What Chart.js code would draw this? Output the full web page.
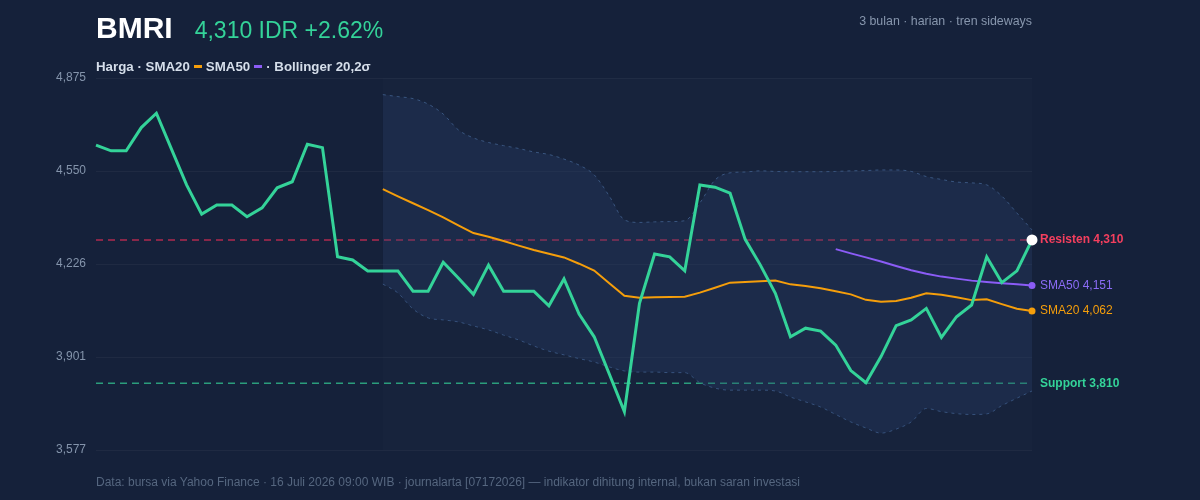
<!DOCTYPE html>
<html>
<head>
<meta charset="utf-8">
<script src="https://cdn.jsdelivr.net/npm/chart.js@4.4.0/dist/chart.umd.min.js"></script>
<style>
  body { margin: 0; background: #15213a; font-family: "Liberation Sans", Arial, sans-serif; }
  #wrap { position: relative; width: 1200px; height: 500px; }
  canvas { position: absolute; left: 0; top: 0; }
  .abs { position: absolute; white-space: nowrap; }
  #head { left: 96px; top: 13px; display: flex; align-items: baseline; gap: 22px; line-height: 30px; }
  #sym { font-weight: bold; font-size: 30px; color: #ffffff; }
  #quote { font-size: 23px; color: #34d399; }
  #meta { right: 168px; top: 15px; font-size: 12.4px; color: #8796ad; line-height: 13px; }
  #legend { left: 96px; top: 60px; font-size: 13.3px; font-weight: bold; color: #d5deea; line-height: 13px; }
  .sw { display: inline-block; width: 8px; height: 3px; vertical-align: middle; margin: 0 4px 2px 4px; }
  #foot { left: 96px; top: 476px; font-size: 12px; color: #55667f; line-height: 12px; }
</style>
</head>
<body>
<div id="wrap">
  <canvas id="myChart" width="1200" height="500"></canvas>
  <div id="head" class="abs"><span id="sym">BMRI</span><span id="quote">4,310 IDR +2.62%</span></div>
  <div id="meta" class="abs">3 bulan · harian · tren sideways</div>
  <div id="legend" class="abs">Harga · SMA20<span class="sw" style="background:#f59e0b"></span>SMA50<span class="sw" style="background:#8b5cf6"></span>· Bollinger 20,2σ</div>
  <div id="foot" class="abs">Data: bursa via Yahoo Finance · 16 Juli 2026 09:00 WIB · journalarta [07172026] — indikator dihitung internal, bukan saran investasi</div>
</div>
<script>
// harga penutupan harian (IDR)
const price = [
  4641, 4621, 4621, 4702, 4752, 4627, 4502, 4400, 4432, 4432,
  4391, 4422, 4492, 4513, 4644, 4632, 4251, 4240, 4202, 4202,
  4202, 4131, 4131, 4232, 4177, 4120, 4222, 4131, 4131, 4131,
  4080, 4174, 4051, 3972, 3842, 3711, 4089, 4261, 4251, 4202,
  4502, 4494, 4473, 4312, 4223, 4124, 3972, 4002, 3992, 3943,
  3854, 3812, 3903, 4011, 4031, 4071, 3970, 4042, 4083, 4251,
  4161, 4202, 4310
]
const N = null
const sma20 = [
  N, N, N, N, N, N, N, N, N, N,
  N, N, N, N, N, N, N, N, N, 4487,
  4462, 4438, 4414, 4389, 4361, 4334, 4321, 4306, 4290, 4275,
  4262, 4249, 4227, 4203, 4159, 4115, 4108, 4110, 4111, 4112,
  4126, 4143, 4161, 4163, 4166, 4168, 4155, 4149, 4141, 4131,
  4120, 4101, 4094, 4097, 4108, 4124, 4119, 4110, 4100, 4103,
  4086, 4070, 4062
]
const sma50 = [
  N, N, N, N, N, N, N, N, N, N,
  N, N, N, N, N, N, N, N, N, N,
  N, N, N, N, N, N, N, N, N, N,
  N, N, N, N, N, N, N, N, N, N,
  N, N, N, N, N, N, N, N, N, 4278,
  4263, 4249, 4235, 4219, 4204, 4192, 4182, 4175, 4168, 4163,
  4159, 4155, 4151
]
const bbUpper = [
  N, N, N, N, N, N, N, N, N, N,
  N, N, N, N, N, N, N, N, N, 4817,
  4810, 4803, 4784, 4749, 4694, 4666, 4650, 4639, 4629, 4617,
  4608, 4592, 4571, 4537, 4463, 4380, 4371, 4373, 4374, 4377,
  4439, 4519, 4544, 4547, 4551, 4549, 4548, 4548, 4548, 4549,
  4551, 4552, 4554, 4554, 4549, 4531, 4521, 4512, 4509, 4502,
  4463, 4404, 4345
]
const bbLower = [
  N, N, N, N, N, N, N, N, N, N,
  N, N, N, N, N, N, N, N, N, 4156,
  4125, 4069, 4038, 4031, 4024, 4010, 3996, 3978, 3961, 3940,
  3922, 3909, 3896, 3884, 3867, 3853, 3849, 3849, 3847, 3847,
  3812, 3793, 3786, 3786, 3786, 3783, 3762, 3745, 3727, 3701,
  3675, 3654, 3636, 3650, 3675, 3722, 3711, 3704, 3701, 3703,
  3732, 3758, 3783
]
const days = price.map((_, i) => 'H' + (i + 1))

const yTicks = [3577, 3901.5, 4226, 4550.5, 4875]
const yTickLabels = ['3,577', '3,901', '4,226', '4,550', '4,875']

const resistance = 4310
const support = 3810
const bandStart = 19

const FONT = '"Liberation Sans", Arial, sans-serif'

const overlay = {
  id: 'overlay',
  beforeDatasetsDraw(chart) {
    const {ctx, chartArea, scales} = chart
    const x0 = scales.x.getPixelForValue(bandStart)
    ctx.save()
    ctx.fillStyle = 'rgba(255,255,255,0.012)'
    ctx.fillRect(x0, chartArea.top, chartArea.right - x0, chartArea.bottom - chartArea.top)

    const hline = (v, color) => {
      const y = scales.y.getPixelForValue(v)
      ctx.strokeStyle = color
      ctx.lineWidth = 1.5
      ctx.setLineDash([7, 5])
      ctx.beginPath()
      ctx.moveTo(chartArea.left, y)
      ctx.lineTo(chartArea.right, y)
      ctx.stroke()
    }
    hline(resistance, 'rgba(225,45,85,0.75)')
    hline(support, 'rgba(52,211,153,0.7)')
    ctx.restore()
  },
  afterDatasetsDraw(chart) {
    const {ctx, chartArea, scales} = chart
    const last = price.length - 1
    const xr = scales.x.getPixelForValue(last)
    const dot = (v, r, color) => {
      ctx.beginPath()
      ctx.fillStyle = color
      ctx.arc(xr, scales.y.getPixelForValue(v), r, 0, Math.PI * 2)
      ctx.fill()
    }
    ctx.save()
    dot(sma20[last], 3.5, '#f59e0b')
    dot(sma50[last], 3.5, '#8b5cf6')
    dot(price[last], 5.5, '#ffffff')

    const label = (text, v, color, bold) => {
      ctx.font = (bold ? 'bold ' : '') + '12px ' + FONT
      ctx.fillStyle = color
      ctx.textBaseline = 'middle'
      ctx.textAlign = 'left'
      ctx.fillText(text, chartArea.right + 8, scales.y.getPixelForValue(v))
    }
    label('Resisten ' + resistance.toLocaleString('en-US'), resistance, '#f43f5e', true)
    label('SMA50 ' + sma50[last].toLocaleString('en-US'), sma50[last], '#8b6cf6', false)
    label('SMA20 ' + sma20[last].toLocaleString('en-US'), sma20[last], '#f59e0b', false)
    label('Support ' + support.toLocaleString('en-US'), support, '#34d399', true)
    ctx.restore()
  }
}

const ctx = document.getElementById('myChart')
const chart = new Chart(ctx, {
  type: 'line',
  data: {
    labels: days,
    datasets: [
      {
        label: 'Harga',
        data: price,
        borderColor: '#34d399',
        borderWidth: 3,
        pointRadius: 0,
        tension: 0,
        fill: false
      },
      {
        label: 'SMA20',
        data: sma20,
        borderColor: '#f59e0b',
        borderWidth: 2,
        pointRadius: 0,
        fill: false
      },
      {
        label: 'SMA50',
        data: sma50,
        borderColor: '#8b5cf6',
        borderWidth: 2,
        pointRadius: 0,
        fill: false
      },
      {
        label: 'BB atas',
        data: bbUpper,
        borderColor: '#3a5680',
        borderWidth: 1,
        borderDash: [3, 4],
        pointRadius: 0,
        cubicInterpolationMode: 'monotone',
        backgroundColor: 'rgba(40,62,105,0.3)',
        fill: '+1'
      },
      {
        label: 'BB bawah',
        data: bbLower,
        borderColor: '#3a5680',
        borderWidth: 1,
        borderDash: [3, 4],
        pointRadius: 0,
        cubicInterpolationMode: 'monotone',
        fill: false
      }
    ]
  },
  options: {
    responsive: false,
    animation: false,
    layout: { padding: { left: 0, right: 168, top: 78, bottom: 50 } },
    plugins: {
      legend: { display: false },
      tooltip: { enabled: false }
    },
    scales: {
      x: { display: false, offset: false },
      y: {
        min: 3577,
        max: 4875,
        afterBuildTicks: (scale) => { scale.ticks = yTicks.map(v => ({value: v})) },
        afterFit: (scale) => { scale.width = 96 },
        border: { display: false },
        grid: { color: 'rgba(255,255,255,0.045)', drawTicks: false, lineWidth: 1 },
        ticks: {
          padding: 10,
          color: '#8494ab',
          font: { family: FONT, size: 12 },
          callback: (v, i) => yTickLabels[i]
        }
      }
    }
  },
  plugins: [overlay]
})
</script>
</body>
</html>
